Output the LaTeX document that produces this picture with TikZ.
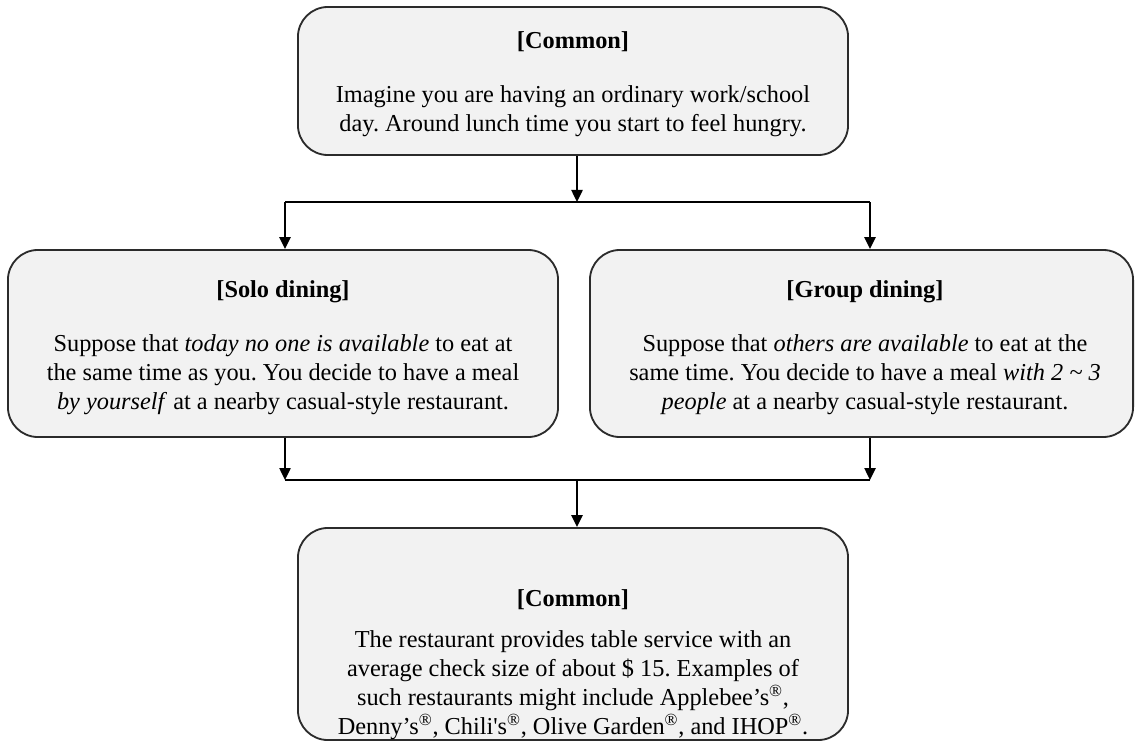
\documentclass[tikz,border=0pt]{standalone}
\usepackage{fontspec}
\setmainfont{Liberation Serif}
\usetikzlibrary{arrows.meta}
\definecolor{boxfill}{HTML}{F2F2F2}
\definecolor{boxline}{HTML}{2B2B2B}
\frenchspacing

\begin{document}
\begin{tikzpicture}[x=0.025cm, y=-0.025cm,
  box/.style={draw=boxline, line width=1.3pt, fill=boxfill, rounded corners=0.75cm, inner sep=0pt},
  boxtext/.style={align=center, font=\fontsize{17.3}{20.6}\selectfont},
  arr/.style={line width=1.3pt, -{Triangle[length=0.3cm, width=0.28cm]}},
  link/.style={line width=1.3pt}]
  \useasboundingbox (0,0) rectangle (1136,742);

  \node [box, minimum width=13.75cm, minimum height=3.7cm] (top) at (573,81) {};
  \node [box, minimum width=13.75cm, minimum height=4.675cm] (solo) at (283,343.5) {};
  \node [box, minimum width=13.575cm, minimum height=4.675cm] (group) at (861.5,343.5) {};
  \node [box, minimum width=13.75cm, minimum height=5.3cm] (bot) at (573,634) {};

  \node [boxtext] (toptxt) at (573,84) {\textbf{[Common]}\\[0.62cm]
    Imagine you are having an ordinary work/school\\
    day. Around lunch time you start to feel hungry.};
  \node [boxtext] (solotxt) at (283,348) {\textbf{[Solo dining]}\\[0.62cm]
    Suppose that \textit{today no one is available} to eat at\\
    the same time as you. You decide to have a meal\\
    \textit{by yourself} at a nearby casual-style restaurant.};
  \node [boxtext] (grouptxt) at (865,348) {\textbf{[Group dining]}\\[0.62cm]
    Suppose that \textit{others are available} to eat at the\\
    same time. You decide to have a meal \textit{with 2 \textasciitilde{} 3}\\
    \textit{people} at a nearby casual-style restaurant.};
  \node [boxtext, below] (bottxt) at (573,585) {\textbf{[Common]}\\[0.3cm]
    The restaurant provides table service with an\\
    average check size of about \$ 15. Examples of\\
    such restaurants might include Applebee’s\textsuperscript{®},\\
    Denny’s\textsuperscript{®}, Chili\textquotesingle s\textsuperscript{®}, Olive Garden\textsuperscript{®}, and IHOP\textsuperscript{®}.};

  % split and join points
  \coordinate (split) at (577,202);
  \coordinate (splitl) at (285,202);
  \coordinate (splitr) at (870,202);
  \coordinate (joinl) at (285,480);
  \coordinate (joinr) at (870,480);
  \coordinate (join) at (577,480);

  \draw [arr] (top.south -| split) -- (split);
  \draw [link] (splitl) -- (splitr);
  \draw [arr] (splitl) -- (splitl |- solo.north);
  \draw [arr] (splitr) -- (splitr |- group.north);

  \draw [arr] (solo.south -| joinl) -- (joinl);
  \draw [arr] (group.south -| joinr) -- (joinr);
  \draw [link] (joinl) -- (joinr);
  \draw [arr] (join) -- (join |- bot.north);
\end{tikzpicture}
\end{document}
